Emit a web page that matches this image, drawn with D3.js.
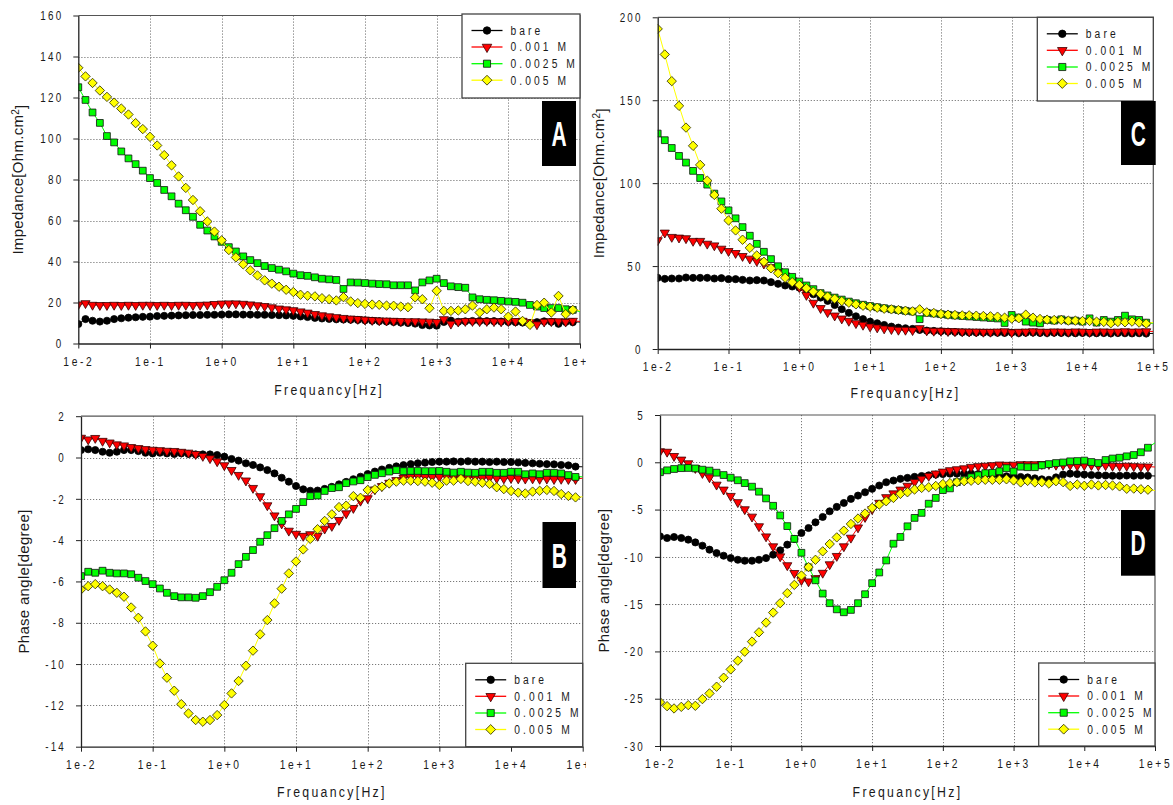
<!DOCTYPE html>
<html>
<head>
<meta charset="utf-8">
<script src="https://cdn.jsdelivr.net/npm/d3@7"></script>
<style>
  html, body { margin: 0; padding: 0; background: #ffffff; }
  svg { display: block; }
</style>
</head>
<body>
<svg id="chart" width="1173" height="805"></svg>
<script>
// ---------------- DATA ----------------
const freq = [
  0.01, 0.0126, 0.0158, 0.02, 0.0251, 0.0316, 0.0398, 0.0501, 0.0631, 0.0794,
  0.1, 0.126, 0.158, 0.2, 0.251, 0.316, 0.398, 0.501, 0.631, 0.794,
  1, 1.26, 1.58, 2, 2.51, 3.16, 3.98, 5.01, 6.31, 7.94,
  10, 12.6, 15.8, 20, 25.1, 31.6, 39.8, 50.1, 63.1, 79.4,
  100, 126, 158, 200, 251, 316, 398, 501, 631, 794,
  1000, 1260, 1580, 2000, 2510, 3160, 3980, 5010, 6310, 7940,
  10000, 12600, 15800, 20000, 25100, 31600, 39800, 50100, 63100, 79400,
  100000
];
const xTickValues = [0.01, 0.1, 1, 10, 100, 1000, 10000, 100000];
const xTickLabels = ["1e-2", "1e-1", "1e+0", "1e+1", "1e+2", "1e+3", "1e+4", "1e+5"];
const seriesNames = ["bare", "0.001 M", "0.0025 M", "0.005 M"];

const impATicks = [0, 20, 40, 60, 80, 100, 120, 140, 160];
const impCTicks = [0, 50, 100, 150, 200];
const phaseBTicks = [-14, -12, -10, -8, -6, -4, -2, 0, 2];
const phaseDTicks = [-30, -25, -20, -15, -10, -5, 0, 5];

// Panel A : impedance
const impA_bare = [
  9.5, 11.9, 11.1, 10.7, 11.1, 11.9, 12.3, 12.6, 12.8, 13.0,
  13.1, 13.4, 13.5, 13.6, 13.7, 13.8, 13.9, 13.9, 14.0, 14.0,
  14.1, 14.2, 14.2, 14.1, 14.1, 14.0, 14.0, 13.9, 13.8, 13.7,
  13.5, 13.2, 12.9, 12.5, 12.2, 12.0, 11.8, 11.7, 11.6, 11.5,
  11.3, 11.1, 10.9, 10.7, 10.5, 10.2, 10.0, 9.7, 9.0, 8.8,
  8.7, 10.5, 11.2, 10.6, 10.8, 11.0, 11.0, 10.9, 10.9, 10.7,
  10.5, 10.4, 10.2, 10.0, 10.4, 10.8, 10.6, 9.6, 10.5, 10.4,
  10.5
];
const impA_001 = [
  19.0, 19.6, 18.8, 18.7, 18.7, 18.8, 18.7, 18.8, 18.7, 18.8,
  18.8, 18.7, 18.8, 18.7, 18.8, 18.8, 18.7, 18.8, 18.9, 19.2,
  19.4, 19.5, 19.5, 19.3, 19.0, 18.6, 18.2, 17.6, 17.0, 16.6,
  16.2, 15.6, 15.0, 14.3, 13.7, 13.2, 12.8, 12.4, 12.1, 11.9,
  11.6, 11.4, 11.2, 11.1, 11.0, 10.9, 10.8, 10.8, 10.7, 10.6,
  10.4, 11.8, 9.6, 10.6, 10.9, 10.9, 10.8, 10.9, 10.8, 10.7,
  10.8, 10.9, 11.0, 10.3, 9.3, 10.6, 10.8, 10.8, 10.6, 11.0,
  10.8
];
const impA_0025 = [
  125.0, 118.8, 112.7, 107.6, 101.2, 98.1, 93.7, 90.3, 87.5, 84.3,
  80.7, 78.3, 74.9, 71.8, 68.2, 65.0, 61.8, 57.9, 55.1, 52.2,
  49.6, 47.0, 44.9, 42.5, 40.7, 39.2, 37.8, 36.8, 36.0, 35.2,
  34.1, 33.3, 33.0, 32.3, 31.6, 31.3, 31.0, 26.6, 29.8, 29.7,
  29.5, 29.2, 29.0, 28.9, 28.4, 28.4, 28.4, 25.9, 29.8, 30.8,
  31.6, 29.5, 27.9, 27.5, 27.2, 22.5, 21.6, 21.3, 21.1, 20.8,
  20.5, 20.3, 19.9, 18.8, 18.0, 17.3, 17.3, 17.3, 16.7, 16.4,
  15.5
];
const impA_005 = [
  134.5, 130.3, 127.1, 123.4, 120.3, 117.5, 114.6, 111.7, 107.5, 104.6,
  100.8, 96.6, 91.9, 86.9, 81.5, 75.9, 70.0, 64.5, 59.5, 54.6,
  50.3, 45.6, 42.0, 38.6, 35.7, 33.2, 30.8, 29.2, 27.7, 26.2,
  25.1, 23.8, 23.3, 23.0, 22.1, 21.6, 21.0, 22.6, 20.5, 19.7,
  19.3, 19.0, 18.9, 18.5, 18.4, 18.0, 17.7, 22.5, 21.6, 17.2,
  25.7, 15.9, 15.9, 16.1, 16.7, 18.5, 15.1, 16.7, 17.5, 16.7,
  13.1, 15.6, 11.0, 9.1, 18.8, 19.9, 15.1, 23.2, 14.3, 16.4,
  16.0
];

// Panel C : impedance
const impC_bare = [
  42.9, 42.3, 42.5, 42.5, 43.1, 42.9, 42.9, 42.9, 42.5, 42.7,
  42.1, 42.1, 41.7, 41.3, 41.5, 41.3, 40.3, 39.3, 38.3, 37.7,
  37.0, 35.2, 33.0, 31.0, 29.0, 26.5, 24.0, 21.8, 19.7, 18.0,
  16.5, 15.5, 14.5, 13.5, 12.9, 12.5, 12.1, 11.5, 11.1, 10.9,
  10.7, 10.5, 10.3, 10.1, 10.0, 9.9, 9.9, 9.8, 9.8, 9.7,
  9.9, 9.6, 9.8, 9.9, 9.7, 9.6, 9.8, 9.7, 9.6, 9.5,
  9.7, 9.6, 9.5, 9.6, 9.4, 9.6, 9.5, 9.4, 9.5, 9.3,
  9.4
];
const impC_001 = [
  65.5, 70.1, 67.5, 67.1, 66.7, 65.1, 65.1, 63.4, 62.4, 60.4,
  59.0, 57.8, 56.0, 54.4, 53.0, 51.4, 49.3, 46.9, 44.3, 41.3,
  37.2, 32.5, 27.8, 24.6, 22.1, 20.1, 18.3, 16.9, 15.5, 14.5,
  13.5, 12.9, 12.3, 11.9, 11.5, 11.5, 11.3, 12.5, 11.1, 10.9,
  10.9, 10.7, 10.6, 10.5, 10.4, 10.4, 10.3, 10.3, 10.4, 10.6,
  10.0, 10.3, 10.4, 10.6, 10.4, 10.3, 10.5, 10.4, 10.3, 10.5,
  10.4, 10.2, 10.4, 10.5, 10.3, 10.4, 10.6, 10.4, 10.5, 10.6,
  10.6
];
const impC_0025 = [
  129.9, 125.9, 121.2, 116.4, 112.4, 107.4, 103.1, 99.1, 93.7, 89.0,
  83.6, 78.8, 73.5, 68.3, 63.4, 58.6, 54.2, 49.9, 46.3, 43.5,
  40.7, 38.3, 36.1, 33.7, 32.3, 31.0, 29.8, 28.6, 27.6, 26.7,
  25.9, 25.2, 24.6, 24.0, 23.5, 23.0, 22.6, 18.0, 21.8, 21.4,
  21.0, 20.6, 20.2, 19.9, 19.6, 19.3, 19.0, 18.7, 18.4, 15.7,
  20.5, 19.0, 16.5, 15.9, 15.5, 17.5, 17.1, 17.9, 17.1, 17.1,
  16.5, 18.5, 15.9, 17.5, 16.5, 17.5, 20.1, 17.9, 17.5, 15.9,
  15.5
];
const impC_005 = [
  193.0, 177.6, 161.5, 146.6, 133.5, 122.5, 111.0, 101.5, 92.9, 84.6,
  77.5, 71.5, 65.9, 61.0, 56.4, 52.6, 48.7, 45.7, 42.9, 40.3,
  38.6, 36.6, 34.6, 33.2, 31.6, 30.3, 28.9, 27.9, 26.9, 26.1,
  25.5, 24.9, 24.3, 23.9, 23.5, 23.1, 22.7, 23.9, 22.1, 21.7,
  21.1, 20.7, 20.5, 20.3, 20.3, 20.1, 19.9, 19.7, 19.5, 18.9,
  18.3, 18.5, 20.7, 18.9, 18.1, 17.7, 17.5, 17.5, 17.1, 17.1,
  16.9, 16.9, 16.5, 16.3, 15.5, 16.3, 16.1, 16.5, 15.9, 15.3,
  16.1
];

// Panel B : phase angle
const phB_bare = [
  0.36, 0.40, 0.36, 0.28, 0.23, 0.28, 0.36, 0.36, 0.31, 0.23,
  0.20, 0.23, 0.20, 0.17, 0.20, 0.17, 0.15, 0.15, 0.15, 0.12,
  0.04, -0.07, -0.15, -0.28, -0.36, -0.48, -0.61, -0.77, -0.98, -1.17,
  -1.38, -1.54, -1.61, -1.60, -1.52, -1.42, -1.30, -1.18, -1.05, -0.93,
  -0.80, -0.68, -0.58, -0.50, -0.43, -0.37, -0.32, -0.28, -0.25, -0.22,
  -0.20, -0.20, -0.19, -0.20, -0.18, -0.20, -0.20, -0.22, -0.20, -0.22,
  -0.22, -0.24, -0.26, -0.28, -0.30, -0.32, -0.33, -0.36, -0.38, -0.44,
  -0.45
];
const phB_001 = [
  0.95, 0.87, 0.94, 0.80, 0.72, 0.63, 0.58, 0.50, 0.45, 0.40,
  0.37, 0.35, 0.32, 0.31, 0.27, 0.23, 0.16, 0.07, -0.04, -0.19,
  -0.38, -0.61, -0.85, -1.12, -1.48, -1.88, -2.32, -2.81, -3.20, -3.55,
  -3.70, -3.80, -3.72, -3.80, -3.45, -3.32, -3.03, -2.71, -2.45, -2.10,
  -1.98, -1.55, -1.39, -1.23, -1.10, -0.98, -0.94, -0.90, -0.94, -0.94,
  -0.94, -0.92, -0.95, -0.96, -0.98, -0.97, -1.00, -0.98, -1.00, -1.02,
  -1.00, -1.02, -1.03, -1.02, -1.04, -1.03, -1.05, -1.04, -1.05, -1.05,
  -1.00
];
const phB_0025 = [
  -5.74, -5.53, -5.58, -5.48, -5.58, -5.61, -5.61, -5.65, -5.82, -5.98,
  -6.13, -6.34, -6.55, -6.71, -6.77, -6.77, -6.79, -6.71, -6.52, -6.26,
  -5.94, -5.58, -5.16, -4.81, -4.48, -4.08, -3.76, -3.42, -3.07, -2.75,
  -2.49, -2.16, -1.87, -1.84, -1.62, -1.48, -1.44, -1.24, -1.16, -1.10,
  -0.95, -0.84, -0.76, -0.68, -0.61, -0.66, -0.65, -0.65, -0.66, -0.66,
  -0.65, -0.69, -0.73, -0.69, -0.73, -0.74, -0.69, -0.69, -0.74, -0.74,
  -0.69, -0.69, -0.81, -0.77, -0.81, -0.74, -0.74, -0.77, -0.85, -0.94,
  -0.93
];
const phB_005 = [
  -6.39, -6.23, -6.13, -6.23, -6.39, -6.55, -6.74, -7.26, -7.76, -8.42,
  -9.11, -9.97, -10.66, -11.29, -11.94, -12.39, -12.71, -12.79, -12.71, -12.47,
  -11.98, -11.42, -10.82, -10.08, -9.35, -8.56, -7.87, -7.06, -6.35, -5.61,
  -5.03, -4.45, -3.94, -3.47, -3.07, -2.75, -2.40, -2.33, -1.87, -1.95,
  -1.57, -1.54, -1.41, -1.25, -1.17, -1.12, -1.12, -1.14, -1.17, -1.22,
  -1.33, -1.12, -1.12, -1.04, -1.14, -1.17, -1.22, -1.28, -1.44, -1.53,
  -1.62, -1.70, -1.74, -1.65, -1.61, -1.57, -1.62, -1.77, -1.86, -1.93,
  -1.90
];

// Panel D : phase angle
const phD_bare = [
  -7.83, -8.01, -7.90, -8.01, -8.18, -8.47, -8.82, -9.24, -9.60, -9.88,
  -10.13, -10.31, -10.41, -10.41, -10.31, -10.13, -9.77, -9.31, -8.71, -8.11,
  -7.48, -6.95, -6.35, -5.78, -5.18, -4.72, -4.30, -3.87, -3.52, -3.17,
  -2.81, -2.46, -2.11, -1.93, -1.75, -1.65, -1.54, -1.45, -1.38, -1.30,
  -1.25, -1.20, -1.20, -1.20, -1.20, -1.25, -1.30, -1.38, -1.42, -1.48,
  -1.50, -1.55, -1.60, -1.70, -1.80, -1.85, -1.60, -1.30, -1.20, -1.25,
  -1.30, -1.35, -1.38, -1.40, -1.42, -1.42, -1.40, -1.42, -1.40, -1.42,
  -1.45
];
const phD_001 = [
  1.15, 1.10, 0.65, 0.27, -0.12, -0.62, -1.15, -1.60, -2.38, -2.90,
  -3.57, -4.23, -4.98, -5.76, -6.78, -7.85, -8.90, -9.96, -10.90, -11.72,
  -12.47, -12.61, -12.26, -11.70, -10.80, -9.92, -8.90, -7.99, -6.90, -5.80,
  -4.97, -4.30, -3.70, -3.30, -2.90, -2.50, -2.10, -1.75, -1.45, -1.20,
  -1.00, -0.85, -0.75, -0.65, -0.50, -0.42, -0.38, -0.32, -0.25, -0.28,
  -0.27, -0.22, -0.22, -0.22, -0.20, -0.20, -0.28, -0.28, -0.28, -0.36,
  -0.30, -0.30, -0.35, -0.32, -0.38, -0.40, -0.38, -0.42, -0.45, -0.46,
  -0.50
];
const phD_0025 = [
  -1.05, -0.85, -0.71, -0.62, -0.60, -0.65, -0.78, -0.88, -1.10, -1.35,
  -1.63, -1.90, -2.20, -2.58, -3.11, -3.82, -4.60, -5.62, -6.75, -8.10,
  -9.57, -11.10, -12.48, -13.88, -14.90, -15.55, -15.86, -15.61, -14.90, -13.95,
  -12.78, -11.65, -10.38, -8.61, -7.90, -6.77, -5.88, -5.35, -4.38, -3.77,
  -2.94, -2.76, -2.10, -1.85, -1.58, -1.37, -1.15, -1.11, -0.95, -0.62,
  -0.97, -0.47, -0.52, -0.52, -0.32, -0.19, -0.08, -0.02, 0.10, 0.13,
  0.18, 0.03, -0.08, 0.24, 0.40, 0.48, 0.63, 0.77, 1.06, 1.54,
  2.06
];
const phD_005 = [
  -25.36, -25.79, -26.03, -25.86, -25.68, -25.75, -25.04, -24.44, -23.73, -22.78,
  -21.90, -20.98, -20.03, -18.96, -17.98, -16.95, -15.89, -14.90, -13.84, -12.96,
  -11.97, -11.08, -10.31, -9.42, -8.64, -7.94, -7.23, -6.52, -5.95, -5.42,
  -4.82, -4.47, -4.12, -3.77, -3.34, -3.17, -2.88, -2.71, -2.64, -2.50,
  -2.30, -2.20, -2.10, -2.00, -1.95, -1.90, -1.85, -1.85, -1.85, -1.80,
  -1.92, -2.13, -1.97, -2.13, -2.10, -2.25, -2.00, -2.10, -2.50, -2.35,
  -2.48, -2.35, -2.45, -2.40, -2.45, -2.55, -2.80, -2.78, -2.85, -2.90,
  -3.00
];

// ---------------- STYLE / LAYOUT ----------------
const seriesStyle = [
  { color: "#000000", fill: "#000000", stroke: "#000000", shape: "circle" },
  { color: "#ff0000", fill: "#ff0000", stroke: "#3a0000", shape: "triangle" },
  { color: "#00ff00", fill: "#00ff00", stroke: "#111111", shape: "square" },
  { color: "#ffff00", fill: "#ffff00", stroke: "#333300", shape: "diamond" }
];

const panels = [
  { letter: "A", x0: 78.3, x1: 580, y0: 15.5, y1: 343.5, yDomain: [0, 160], yTicks: impATicks,
    series: [impA_bare, impA_001, impA_0025, impA_005], yTitle: "imp", yTitleX: 18, xTitleY: 390,
    legend: { x: 462, y: 14, w: 118, h: 84 }, box: { x: 542, y: 101, w: 34, h: 65 }, clipRight: 586, clipTop: 0, clipBottom: 400 },
  { letter: "C", x0: 657.7, x1: 1153.3, y0: 17.3, y1: 349, yDomain: [0, 200], yTicks: impCTicks,
    series: [impC_bare, impC_001, impC_0025, impC_005], yTitle: "imp", yTitleX: 599, xTitleY: 393,
    legend: { x: 1037.3, y: 17.3, w: 116, h: 83.7 }, box: { x: 1121, y: 101, w: 34.7, h: 64 } },
  { letter: "B", x0: 81, x1: 582.7, y0: 416.2, y1: 746.7, yDomain: [-14, 2], yTicks: phaseBTicks,
    series: [phB_bare, phB_001, phB_0025, phB_005], yTitle: "phase", yTitleX: 24, xTitleY: 791.7,
    legend: { x: 465.7, y: 663.3, w: 117, h: 83.4 }, box: { x: 542.5, y: 522, w: 33.5, h: 66 }, clipRight: 586, clipTop: 400, clipBottom: 805 },
  { letter: "D", x0: 660, x1: 1155, y0: 415, y1: 746, yDomain: [-30, 5], yTicks: phaseDTicks,
    series: [phD_bare, phD_001, phD_0025, phD_005], yTitle: "phase", yTitleX: 604, xTitleY: 791.7,
    legend: { x: 1038.7, y: 663, w: 116.3, h: 83 }, box: { x: 1121, y: 510, w: 34, h: 65.7 } }
];

// ---------------- FONT HELPERS ----------------
function fontAvailable(name) {
  const c = document.createElement("canvas").getContext("2d");
  const s = "abcdefghijklmWMi0123456789";
  c.font = "20px monospace";
  const w0 = c.measureText(s).width;
  c.font = '20px "' + name + '", monospace';
  const w1 = c.measureText(s).width;
  return Math.abs(w0 - w1) > 0.5;
}
const NARROW = fontAvailable("Liberation Sans Narrow");
const SQ = NARROW ? 1 : 0.82;
const narrowFamily = NARROW ? '"Liberation Sans Narrow", "Liberation Sans", sans-serif' : '"Liberation Sans", Arial, sans-serif';

// narrow text placed at (x,y)
function narrowText(parent, x, y, str, size, spacing, anchor) {
  return parent.append("text")
    .attr("transform", `translate(${x},${y}) scale(${SQ},1)`)
    .attr("text-anchor", anchor || "start")
    .attr("dy", "0.35em")
    .style("font-family", narrowFamily)
    .style("font-size", size + "px")
    .style("letter-spacing", (spacing / SQ) + "px")
    .attr("fill", "#1a1a1a")
    .text(str);
}

function markerPath(shape, scale) {
  const k = scale || 1;
  if (shape === "circle") return d3.symbol(d3.symbolCircle, 40 * k)();
  if (shape === "triangle") return d3.symbol(d3.symbolTriangle, 36 * k)();
  if (shape === "square") return d3.symbol(d3.symbolSquare, 46 * k)();
  return d3.symbol(d3.symbolSquare, 44 * k)();
}
function markerRotate(shape) {
  if (shape === "triangle") return 180;
  if (shape === "diamond") return 45;
  return 0;
}

// ---------------- DRAW ----------------
const svg = d3.select("#chart");
const defs = svg.append("defs");
svg.append("rect").attr("width", 1173).attr("height", 805).attr("fill", "#fff");

panels.forEach((p, pi) => {
  const root = svg.append("g");
  if (p.clipRight) {
    defs.append("clipPath").attr("id", "panelclip" + pi)
      .append("rect").attr("x", 0).attr("y", p.clipTop).attr("width", p.clipRight).attr("height", p.clipBottom - p.clipTop);
    root.attr("clip-path", `url(#panelclip${pi})`);
  }
  const x = d3.scaleLog().domain([xTickValues[0], xTickValues[xTickValues.length - 1]]).range([p.x0, p.x1]);
  const y = d3.scaleLinear().domain(p.yDomain).range([p.y1, p.y0]);

  // grid
  const grid = root.append("g").attr("stroke", "#7a7a7a").attr("stroke-width", 1).attr("stroke-dasharray", "1.2,1.8");
  grid.selectAll("line.gx").data(xTickValues.slice(1, -1)).join("line")
    .attr("x1", d => Math.round(x(d)) + 0.5).attr("x2", d => Math.round(x(d)) + 0.5)
    .attr("y1", p.y0).attr("y2", p.y1);
  grid.selectAll("line.gy").data(p.yTicks.slice(1, -1)).join("line")
    .attr("x1", p.x0).attr("x2", p.x1)
    .attr("y1", d => Math.round(y(d)) + 0.5).attr("y2", d => Math.round(y(d)) + 0.5);

  // frame top/right
  root.append("path")
    .attr("d", `M${p.x0},${p.y0}H${p.x1}V${p.y1}`)
    .attr("fill", "none").attr("stroke", "#555").attr("stroke-width", 1.2);

  // data
  const plotClipId = "plotclip" + pi;
  defs.append("clipPath").attr("id", plotClipId)
    .append("rect").attr("x", p.x0).attr("y", p.y0 - 6).attr("width", p.x1 - p.x0).attr("height", p.y1 - p.y0 + 12);
  const plot = root.append("g").attr("clip-path", `url(#${plotClipId})`);
  const line = d3.line().x(d => x(d[0])).y(d => y(d[1]));
  p.series.forEach((vals, si) => {
    const st = seriesStyle[si];
    const pts = freq.map((f, i) => [f, vals[i]]);
    plot.append("path").datum(pts).attr("d", line)
      .attr("fill", "none").attr("stroke", st.color).attr("stroke-width", 1);
    plot.append("g").selectAll("path").data(pts.filter(d => d[0] < xTickValues[xTickValues.length - 1])).join("path")
      .attr("d", markerPath(st.shape))
      .attr("transform", d => `translate(${x(d[0])},${y(d[1])}) rotate(${markerRotate(st.shape)})`)
      .attr("fill", st.fill).attr("stroke", st.stroke).attr("stroke-width", 0.8);
  });

  // axes
  const xAxis = d3.axisBottom(x).tickValues(xTickValues)
    .tickFormat((d, i) => xTickLabels[i]).tickSize(5).tickSizeOuter(0);
  const gx = root.append("g").attr("transform", `translate(0,${p.y1})`).call(xAxis);
  gx.select(".domain").attr("stroke", "#222").attr("stroke-width", 1.3);
  gx.selectAll(".tick line").attr("stroke", "#222");
  gx.selectAll(".tick text")
    .attr("y", 18).attr("dy", "0.35em")
    .attr("transform", `scale(${SQ},1)`)
    .attr("fill", "#1a1a1a")
    .style("font-family", narrowFamily).style("font-size", "12.5px")
    .style("letter-spacing", (2.6 / SQ) + "px");

  const yAxis = d3.axisLeft(y).tickValues(p.yTicks).tickFormat(d => String(d)).tickSize(5).tickSizeOuter(0);
  const gy = root.append("g").attr("transform", `translate(${p.x0},0)`).call(yAxis);
  gy.select(".domain").attr("stroke", "#222").attr("stroke-width", 1.3);
  gy.selectAll(".tick line").attr("stroke", "#222");
  gy.selectAll(".tick text")
    .attr("x", -15 / SQ).attr("dy", "0.35em")
    .attr("transform", `scale(${SQ},1)`)
    .attr("fill", "#1a1a1a")
    .style("font-family", narrowFamily).style("font-size", "12px")
    .style("letter-spacing", (2.2 / SQ) + "px");

  // axis titles
  narrowText(root, (p.x0 + p.x1) / 2, p.xTitleY, "Frequancy[Hz]", 15, 2.3, "middle");

  const yt = root.append("text")
    .attr("transform", `translate(${p.yTitleX},${(p.y0 + p.y1) / 2}) rotate(-90)`)
    .attr("text-anchor", "middle").attr("dy", "0.35em")
    .attr("fill", "#1a1a1a")
    .style("font-family", '"Liberation Sans", Arial, sans-serif')
    .style("font-size", "15px").style("letter-spacing", "0.3px");
  if (p.yTitle === "imp") {
    yt.append("tspan").text("Impedance[Ohm.cm");
    yt.append("tspan").attr("dy", "-0.45em").style("font-size", "10px").text("2");
    yt.append("tspan").attr("dy", "0.45em").text("]");
  } else {
    yt.text("Phase angle[degree]");
  }

  // legend
  const L = p.legend;
  const lg = root.append("g");
  lg.append("rect").attr("x", L.x).attr("y", L.y).attr("width", L.w).attr("height", L.h)
    .attr("fill", "#fff").attr("stroke", "#444").attr("stroke-width", 1.3);
  const rowOffsets = [16.5, 33, 49.7, 66.2];
  seriesNames.forEach((name, si) => {
    const st = seriesStyle[si];
    const ry = L.y + rowOffsets[si];
    lg.append("line").attr("x1", L.x + 9.5).attr("x2", L.x + 40.5).attr("y1", ry).attr("y2", ry)
      .attr("stroke", st.color).attr("stroke-width", 1.3);
    lg.append("path").attr("d", markerPath(st.shape, 1.1))
      .attr("transform", `translate(${L.x + 25},${ry}) rotate(${markerRotate(st.shape)})`)
      .attr("fill", st.fill).attr("stroke", st.stroke).attr("stroke-width", 0.8);
    narrowText(lg, L.x + 48.5, ry, name, 12.5, 3.1, "start");
  });

  // panel letter box
  const B = p.box;
  root.append("rect").attr("x", B.x).attr("y", B.y).attr("width", B.w).attr("height", B.h).attr("fill", "#000");
  root.append("text")
    .attr("transform", `translate(${B.x + B.w / 2},${B.y + B.h / 2 + 12.5}) scale(0.6,1)`)
    .attr("text-anchor", "middle")
    .attr("fill", "#fff")
    .style("font-family", '"Liberation Sans", Arial, sans-serif')
    .style("font-weight", "bold").style("font-size", "35px")
    .text(p.letter);
});
</script>
</body>
</html>
